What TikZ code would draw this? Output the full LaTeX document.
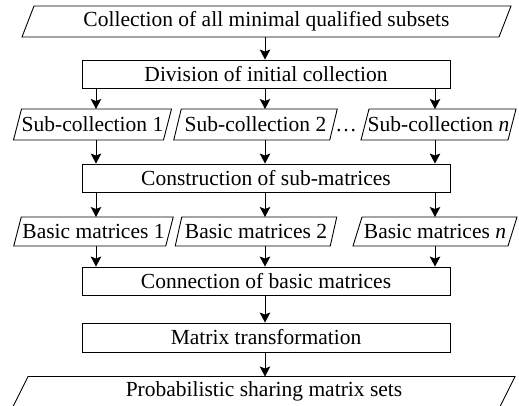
\documentclass[tikz,border=0pt]{standalone}
\usepackage{fontspec}
\setmainfont{Liberation Serif}
\usetikzlibrary{arrows.meta}
\begin{document}
\begin{tikzpicture}[x=1pt,y=-1pt,
  every node/.style={font=\fontsize{21.5}{24}\selectfont, inner sep=0pt},
  outline/.style={line width=0.9pt},
  procbox/.style={draw, outline, minimum width=368pt, minimum height=28pt},
  iobox/.style={minimum height=#1, outer sep=0pt},
  arr/.style={outline, -{Stealth[length=10pt,width=10.5pt,inset=2pt]}},
]
\useasboundingbox (0,0) rectangle (519,405);

% process steps and data items
\node[iobox=31pt, minimum width=477pt] (col) at (266.5,21.5) {Collection of all minimal qualified subsets};
\node[procbox] (div) at (266,74) {Division of initial collection};
\node[iobox=31pt, minimum width=150pt] (s1) at (92.5,124.5) {Sub-collection 1};
\node[iobox=31pt, minimum width=156pt] (s2) at (255.5,124.5) {Sub-collection 2};
\node[anchor=base] (dots) at (346,131.5) {…};
\node[iobox=31pt, minimum width=147pt] (sn) at (438.5,124.5) {Sub-collection \textit{n}};
\node[procbox] (con) at (266,178) {Construction of sub-matrices};
\node[iobox=29pt, minimum width=152pt] (b1) at (93.5,231.5) {Basic matrices 1};
\node[iobox=29pt, minimum width=155pt] (b2) at (256,231.5) {Basic matrices 2};
\node[iobox=29pt, minimum width=155pt] (bn) at (435,231.5) {Basic matrices \textit{n}};
\node[procbox] (cnx) at (266,281) {Connection of basic matrices};
\node[procbox, minimum height=29pt] (mat) at (266,337.5) {Matrix transformation};
\node[iobox=30pt, minimum width=487pt] (prob) at (264,391.5) {Probabilistic sharing matrix sets};

% parallelogram outlines of the data items (name/slant)
\foreach \n/\s in {col/12, s1/8, s2/7.5, sn/8, b1/7.5, b2/6.5, bn/9, prob/15}
  \draw[outline] ([xshift=-\s*0.5pt]\n.south west) -- ([xshift=\s*0.5pt]\n.north west)
    -- ([xshift=\s*0.5pt]\n.north east) -- ([xshift=-\s*0.5pt]\n.south east) -- cycle;

% columns of the three parallel branches
\coordinate (xl) at (96,0);
\coordinate (xm) at (265,0);
\coordinate (xr) at (435,0);

% connectors
\draw[arr] (col.south -| xm) -- (xm |- div.north);
\draw[arr] (xl |- div.south) -- (xl |- s1.north);
\draw[arr] (xm |- div.south) -- (xm |- s2.north);
\draw[arr] (xr |- div.south) -- (xr |- sn.north);
\draw[arr] (xl |- s1.south) -- (xl |- con.north);
\draw[arr] (xm |- s2.south) -- (xm |- con.north);
\draw[arr] (xr |- sn.south) -- (xr |- con.north);
\draw[arr] (xl |- con.south) -- (xl |- b1.north);
\draw[arr] (xm |- con.south) -- (xm |- b2.north);
\draw[arr] (xr |- con.south) -- (xr |- bn.north);
\draw[arr] (xl |- b1.south) -- (xl |- cnx.north);
\draw[arr] (xm |- b2.south) -- (xm |- cnx.north);
\draw[arr] (xr |- bn.south) -- (xr |- cnx.north);
\draw[arr] (xm |- cnx.south) -- (xm |- mat.north);
\draw[arr] (xm |- mat.south) -- (xm |- prob.north);
\end{tikzpicture}
\end{document}
